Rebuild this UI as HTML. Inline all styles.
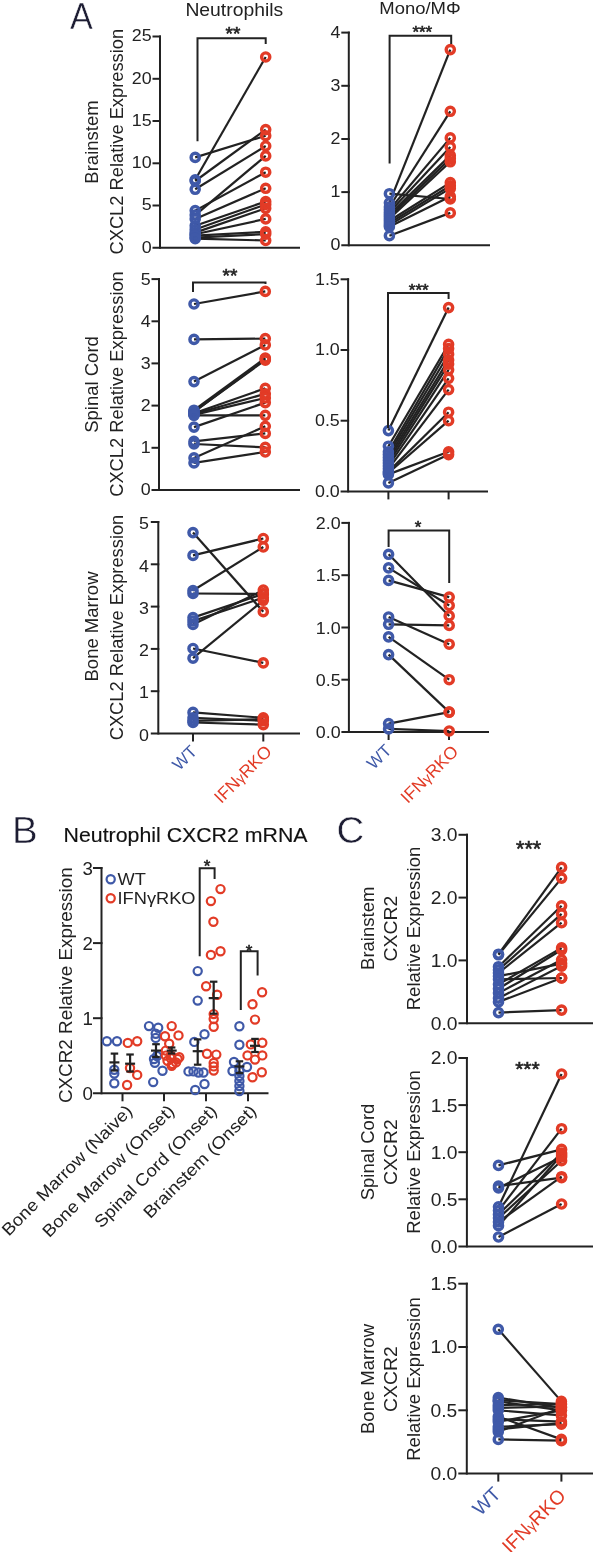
<!DOCTYPE html>
<html><head><meta charset="utf-8"><title>Figure</title>
<style>html,body{margin:0;padding:0;background:#fff;width:593px;height:1552px;overflow:hidden}
svg{display:block;will-change:transform} text{font-family:"Liberation Sans",sans-serif}</style></head>
<body><svg width="593" height="1552" viewBox="0 0 593 1552" font-family="Liberation Sans">
<rect width="593" height="1552" fill="#fff"/>
<text transform="translate(70.00 28.80) scale(0.95 1)" font-size="36" text-anchor="start" fill="#1d1d33" stroke="#fff" stroke-width="0.5">A</text>
<text transform="translate(234.30 15.80) scale(1.075 1)" font-size="18" text-anchor="middle" fill="#222" stroke="#222" stroke-width="0">Neutrophils</text>
<text transform="translate(420.00 13.50) scale(1.12 1)" font-size="16.5" text-anchor="middle" fill="#222" stroke="#222" stroke-width="0">Mono/M&#934;</text>
<line x1="160.0" y1="35.5" x2="160.0" y2="248.8" stroke="#222" stroke-width="2"/>
<line x1="152.5" y1="247.8" x2="300.0" y2="247.8" stroke="#222" stroke-width="2"/>
<text transform="translate(151.70 252.60) scale(1.05 1)" font-size="17" text-anchor="end" fill="#222" stroke="#222" stroke-width="0">0</text>
<line x1="152.5" y1="205.5" x2="161.0" y2="205.5" stroke="#222" stroke-width="2"/>
<text transform="translate(151.70 210.34) scale(1.05 1)" font-size="17" text-anchor="end" fill="#222" stroke="#222" stroke-width="0">5</text>
<line x1="152.5" y1="163.3" x2="161.0" y2="163.3" stroke="#222" stroke-width="2"/>
<text transform="translate(151.70 168.08) scale(1.05 1)" font-size="17" text-anchor="end" fill="#222" stroke="#222" stroke-width="0">10</text>
<line x1="152.5" y1="121.0" x2="161.0" y2="121.0" stroke="#222" stroke-width="2"/>
<text transform="translate(151.70 125.82) scale(1.05 1)" font-size="17" text-anchor="end" fill="#222" stroke="#222" stroke-width="0">15</text>
<line x1="152.5" y1="78.8" x2="161.0" y2="78.8" stroke="#222" stroke-width="2"/>
<text transform="translate(151.70 83.56) scale(1.05 1)" font-size="17" text-anchor="end" fill="#222" stroke="#222" stroke-width="0">20</text>
<line x1="152.5" y1="36.5" x2="161.0" y2="36.5" stroke="#222" stroke-width="2"/>
<text transform="translate(151.70 41.30) scale(1.05 1)" font-size="17" text-anchor="end" fill="#222" stroke="#222" stroke-width="0">25</text>
<line x1="195.2" y1="157.4" x2="265.7" y2="135.7" stroke="#222" stroke-width="2.2"/>
<line x1="195.2" y1="179.8" x2="265.7" y2="57.0" stroke="#222" stroke-width="2.2"/>
<line x1="195.2" y1="181.0" x2="265.7" y2="129.6" stroke="#222" stroke-width="2.2"/>
<line x1="195.2" y1="189.3" x2="265.7" y2="146.0" stroke="#222" stroke-width="2.2"/>
<line x1="195.2" y1="210.6" x2="265.7" y2="172.2" stroke="#222" stroke-width="2.2"/>
<line x1="195.2" y1="215.1" x2="265.7" y2="155.9" stroke="#222" stroke-width="2.2"/>
<line x1="195.2" y1="218.9" x2="265.7" y2="188.3" stroke="#222" stroke-width="2.2"/>
<line x1="195.2" y1="225.7" x2="265.7" y2="201.5" stroke="#222" stroke-width="2.2"/>
<line x1="195.2" y1="229.5" x2="265.7" y2="204.5" stroke="#222" stroke-width="2.2"/>
<line x1="195.2" y1="232.6" x2="265.7" y2="208.3" stroke="#222" stroke-width="2.2"/>
<line x1="195.2" y1="234.3" x2="265.7" y2="218.9" stroke="#222" stroke-width="2.2"/>
<line x1="195.2" y1="235.6" x2="265.7" y2="231.8" stroke="#222" stroke-width="2.2"/>
<line x1="195.2" y1="237.7" x2="265.7" y2="234.1" stroke="#222" stroke-width="2.2"/>
<line x1="195.2" y1="238.6" x2="265.7" y2="240.5" stroke="#222" stroke-width="2.2"/>
<circle cx="195.2" cy="157.4" r="4.1" fill="none" stroke="#3f59a8" stroke-width="3.4"/>
<circle cx="195.2" cy="179.8" r="4.1" fill="none" stroke="#3f59a8" stroke-width="3.4"/>
<circle cx="195.2" cy="181.0" r="4.1" fill="none" stroke="#3f59a8" stroke-width="3.4"/>
<circle cx="195.2" cy="189.3" r="4.1" fill="none" stroke="#3f59a8" stroke-width="3.4"/>
<circle cx="195.2" cy="210.6" r="4.1" fill="none" stroke="#3f59a8" stroke-width="3.4"/>
<circle cx="195.2" cy="215.1" r="4.1" fill="none" stroke="#3f59a8" stroke-width="3.4"/>
<circle cx="195.2" cy="218.9" r="4.1" fill="none" stroke="#3f59a8" stroke-width="3.4"/>
<circle cx="195.2" cy="225.7" r="4.1" fill="none" stroke="#3f59a8" stroke-width="3.4"/>
<circle cx="195.2" cy="229.5" r="4.1" fill="none" stroke="#3f59a8" stroke-width="3.4"/>
<circle cx="195.2" cy="232.6" r="4.1" fill="none" stroke="#3f59a8" stroke-width="3.4"/>
<circle cx="195.2" cy="234.3" r="4.1" fill="none" stroke="#3f59a8" stroke-width="3.4"/>
<circle cx="195.2" cy="235.6" r="4.1" fill="none" stroke="#3f59a8" stroke-width="3.4"/>
<circle cx="195.2" cy="237.7" r="4.1" fill="none" stroke="#3f59a8" stroke-width="3.4"/>
<circle cx="195.2" cy="238.6" r="4.1" fill="none" stroke="#3f59a8" stroke-width="3.4"/>
<circle cx="265.7" cy="135.7" r="4.1" fill="none" stroke="#e23b26" stroke-width="3.4"/>
<circle cx="265.7" cy="57.0" r="4.1" fill="none" stroke="#e23b26" stroke-width="3.4"/>
<circle cx="265.7" cy="129.6" r="4.1" fill="none" stroke="#e23b26" stroke-width="3.4"/>
<circle cx="265.7" cy="146.0" r="4.1" fill="none" stroke="#e23b26" stroke-width="3.4"/>
<circle cx="265.7" cy="172.2" r="4.1" fill="none" stroke="#e23b26" stroke-width="3.4"/>
<circle cx="265.7" cy="155.9" r="4.1" fill="none" stroke="#e23b26" stroke-width="3.4"/>
<circle cx="265.7" cy="188.3" r="4.1" fill="none" stroke="#e23b26" stroke-width="3.4"/>
<circle cx="265.7" cy="201.5" r="4.1" fill="none" stroke="#e23b26" stroke-width="3.4"/>
<circle cx="265.7" cy="204.5" r="4.1" fill="none" stroke="#e23b26" stroke-width="3.4"/>
<circle cx="265.7" cy="208.3" r="4.1" fill="none" stroke="#e23b26" stroke-width="3.4"/>
<circle cx="265.7" cy="218.9" r="4.1" fill="none" stroke="#e23b26" stroke-width="3.4"/>
<circle cx="265.7" cy="231.8" r="4.1" fill="none" stroke="#e23b26" stroke-width="3.4"/>
<circle cx="265.7" cy="234.1" r="4.1" fill="none" stroke="#e23b26" stroke-width="3.4"/>
<circle cx="265.7" cy="240.5" r="4.1" fill="none" stroke="#e23b26" stroke-width="3.4"/>
<polyline points="197.5,141.3 197.5,38.3 265.7,38.3 265.7,44" fill="none" stroke="#222" stroke-width="2"/>
<text transform="translate(232.90 40.14)" font-size="19" text-anchor="middle" fill="#222" stroke="#222" stroke-width="0.6">**</text>
<text transform="translate(97.80 142.00) rotate(-90)" font-size="18.5" text-anchor="middle" fill="#222" stroke="#222" stroke-width="0">Brainstem</text>
<text transform="translate(123.30 141.70) rotate(-90)" font-size="18.3" text-anchor="middle" fill="#222" stroke="#222" stroke-width="0">CXCL2 Relative Expression</text>
<line x1="348.8" y1="31.6" x2="348.8" y2="246.3" stroke="#222" stroke-width="2"/>
<line x1="341.3" y1="245.3" x2="490.0" y2="245.3" stroke="#222" stroke-width="2"/>
<text transform="translate(340.50 250.40) scale(1.05 1)" font-size="17" text-anchor="end" fill="#222" stroke="#222" stroke-width="0">0</text>
<line x1="341.3" y1="192.1" x2="349.8" y2="192.1" stroke="#222" stroke-width="2"/>
<text transform="translate(340.50 197.23) scale(1.05 1)" font-size="17" text-anchor="end" fill="#222" stroke="#222" stroke-width="0">1</text>
<line x1="341.3" y1="139.0" x2="349.8" y2="139.0" stroke="#222" stroke-width="2"/>
<text transform="translate(340.50 144.06) scale(1.05 1)" font-size="17" text-anchor="end" fill="#222" stroke="#222" stroke-width="0">2</text>
<line x1="341.3" y1="85.8" x2="349.8" y2="85.8" stroke="#222" stroke-width="2"/>
<text transform="translate(340.50 90.89) scale(1.05 1)" font-size="17" text-anchor="end" fill="#222" stroke="#222" stroke-width="0">3</text>
<line x1="341.3" y1="32.6" x2="349.8" y2="32.6" stroke="#222" stroke-width="2"/>
<text transform="translate(340.50 37.72) scale(1.05 1)" font-size="17" text-anchor="end" fill="#222" stroke="#222" stroke-width="0">4</text>
<line x1="389.4" y1="193.7" x2="450.3" y2="199.0" stroke="#222" stroke-width="2.2"/>
<line x1="389.4" y1="202.8" x2="450.3" y2="49.6" stroke="#222" stroke-width="2.2"/>
<line x1="389.4" y1="207.0" x2="450.3" y2="111.3" stroke="#222" stroke-width="2.2"/>
<line x1="389.4" y1="209.7" x2="450.3" y2="137.9" stroke="#222" stroke-width="2.2"/>
<line x1="389.4" y1="212.3" x2="450.3" y2="146.9" stroke="#222" stroke-width="2.2"/>
<line x1="389.4" y1="214.5" x2="450.3" y2="155.4" stroke="#222" stroke-width="2.2"/>
<line x1="389.4" y1="216.6" x2="450.3" y2="158.6" stroke="#222" stroke-width="2.2"/>
<line x1="389.4" y1="218.7" x2="450.3" y2="161.8" stroke="#222" stroke-width="2.2"/>
<line x1="389.4" y1="220.8" x2="450.3" y2="182.6" stroke="#222" stroke-width="2.2"/>
<line x1="389.4" y1="223.0" x2="450.3" y2="185.7" stroke="#222" stroke-width="2.2"/>
<line x1="389.4" y1="225.1" x2="450.3" y2="188.4" stroke="#222" stroke-width="2.2"/>
<line x1="389.4" y1="226.7" x2="450.3" y2="196.4" stroke="#222" stroke-width="2.2"/>
<line x1="389.4" y1="235.7" x2="450.3" y2="212.9" stroke="#222" stroke-width="2.2"/>
<circle cx="389.4" cy="193.7" r="4.1" fill="none" stroke="#3f59a8" stroke-width="3.4"/>
<circle cx="389.4" cy="202.8" r="4.1" fill="none" stroke="#3f59a8" stroke-width="3.4"/>
<circle cx="389.4" cy="207.0" r="4.1" fill="none" stroke="#3f59a8" stroke-width="3.4"/>
<circle cx="389.4" cy="209.7" r="4.1" fill="none" stroke="#3f59a8" stroke-width="3.4"/>
<circle cx="389.4" cy="212.3" r="4.1" fill="none" stroke="#3f59a8" stroke-width="3.4"/>
<circle cx="389.4" cy="214.5" r="4.1" fill="none" stroke="#3f59a8" stroke-width="3.4"/>
<circle cx="389.4" cy="216.6" r="4.1" fill="none" stroke="#3f59a8" stroke-width="3.4"/>
<circle cx="389.4" cy="218.7" r="4.1" fill="none" stroke="#3f59a8" stroke-width="3.4"/>
<circle cx="389.4" cy="220.8" r="4.1" fill="none" stroke="#3f59a8" stroke-width="3.4"/>
<circle cx="389.4" cy="223.0" r="4.1" fill="none" stroke="#3f59a8" stroke-width="3.4"/>
<circle cx="389.4" cy="225.1" r="4.1" fill="none" stroke="#3f59a8" stroke-width="3.4"/>
<circle cx="389.4" cy="226.7" r="4.1" fill="none" stroke="#3f59a8" stroke-width="3.4"/>
<circle cx="389.4" cy="235.7" r="4.1" fill="none" stroke="#3f59a8" stroke-width="3.4"/>
<circle cx="450.3" cy="199.0" r="4.1" fill="none" stroke="#e23b26" stroke-width="3.4"/>
<circle cx="450.3" cy="49.6" r="4.1" fill="none" stroke="#e23b26" stroke-width="3.4"/>
<circle cx="450.3" cy="111.3" r="4.1" fill="none" stroke="#e23b26" stroke-width="3.4"/>
<circle cx="450.3" cy="137.9" r="4.1" fill="none" stroke="#e23b26" stroke-width="3.4"/>
<circle cx="450.3" cy="146.9" r="4.1" fill="none" stroke="#e23b26" stroke-width="3.4"/>
<circle cx="450.3" cy="155.4" r="4.1" fill="none" stroke="#e23b26" stroke-width="3.4"/>
<circle cx="450.3" cy="158.6" r="4.1" fill="none" stroke="#e23b26" stroke-width="3.4"/>
<circle cx="450.3" cy="161.8" r="4.1" fill="none" stroke="#e23b26" stroke-width="3.4"/>
<circle cx="450.3" cy="182.6" r="4.1" fill="none" stroke="#e23b26" stroke-width="3.4"/>
<circle cx="450.3" cy="185.7" r="4.1" fill="none" stroke="#e23b26" stroke-width="3.4"/>
<circle cx="450.3" cy="188.4" r="4.1" fill="none" stroke="#e23b26" stroke-width="3.4"/>
<circle cx="450.3" cy="196.4" r="4.1" fill="none" stroke="#e23b26" stroke-width="3.4"/>
<circle cx="450.3" cy="212.9" r="4.1" fill="none" stroke="#e23b26" stroke-width="3.4"/>
<polyline points="389.6,163.6 389.6,35.8 451.2,35.8 451.2,44" fill="none" stroke="#222" stroke-width="2"/>
<text transform="translate(422.30 37.72)" font-size="17" text-anchor="middle" fill="#222" stroke="#222" stroke-width="0.6">***</text>
<line x1="159.0" y1="278.1" x2="159.0" y2="490.9" stroke="#222" stroke-width="2"/>
<line x1="151.5" y1="489.9" x2="300.0" y2="489.9" stroke="#222" stroke-width="2"/>
<text transform="translate(150.70 495.30) scale(1.05 1)" font-size="17" text-anchor="end" fill="#222" stroke="#222" stroke-width="0">0</text>
<line x1="151.5" y1="447.8" x2="160.0" y2="447.8" stroke="#222" stroke-width="2"/>
<text transform="translate(150.70 453.15) scale(1.05 1)" font-size="17" text-anchor="end" fill="#222" stroke="#222" stroke-width="0">1</text>
<line x1="151.5" y1="405.6" x2="160.0" y2="405.6" stroke="#222" stroke-width="2"/>
<text transform="translate(150.70 411.00) scale(1.05 1)" font-size="17" text-anchor="end" fill="#222" stroke="#222" stroke-width="0">2</text>
<line x1="151.5" y1="363.4" x2="160.0" y2="363.4" stroke="#222" stroke-width="2"/>
<text transform="translate(150.70 368.85) scale(1.05 1)" font-size="17" text-anchor="end" fill="#222" stroke="#222" stroke-width="0">3</text>
<line x1="151.5" y1="321.3" x2="160.0" y2="321.3" stroke="#222" stroke-width="2"/>
<text transform="translate(150.70 326.70) scale(1.05 1)" font-size="17" text-anchor="end" fill="#222" stroke="#222" stroke-width="0">4</text>
<line x1="151.5" y1="279.1" x2="160.0" y2="279.1" stroke="#222" stroke-width="2"/>
<text transform="translate(150.70 284.55) scale(1.05 1)" font-size="17" text-anchor="end" fill="#222" stroke="#222" stroke-width="0">5</text>
<line x1="194.0" y1="304.0" x2="265.3" y2="291.4" stroke="#222" stroke-width="2.2"/>
<line x1="194.0" y1="339.4" x2="265.3" y2="338.6" stroke="#222" stroke-width="2.2"/>
<line x1="194.0" y1="381.6" x2="265.3" y2="344.9" stroke="#222" stroke-width="2.2"/>
<line x1="194.0" y1="410.2" x2="265.3" y2="358.0" stroke="#222" stroke-width="2.2"/>
<line x1="194.0" y1="411.5" x2="265.3" y2="360.1" stroke="#222" stroke-width="2.2"/>
<line x1="194.0" y1="411.9" x2="265.3" y2="359.2" stroke="#222" stroke-width="2.2"/>
<line x1="194.0" y1="413.2" x2="265.3" y2="388.3" stroke="#222" stroke-width="2.2"/>
<line x1="194.0" y1="414.0" x2="265.3" y2="393.8" stroke="#222" stroke-width="2.2"/>
<line x1="194.0" y1="414.9" x2="265.3" y2="398.0" stroke="#222" stroke-width="2.2"/>
<line x1="194.0" y1="415.3" x2="265.3" y2="415.3" stroke="#222" stroke-width="2.2"/>
<line x1="194.0" y1="427.1" x2="265.3" y2="402.6" stroke="#222" stroke-width="2.2"/>
<line x1="194.0" y1="441.4" x2="265.3" y2="433.4" stroke="#222" stroke-width="2.2"/>
<line x1="194.0" y1="444.0" x2="265.3" y2="447.3" stroke="#222" stroke-width="2.2"/>
<line x1="194.0" y1="457.9" x2="265.3" y2="426.3" stroke="#222" stroke-width="2.2"/>
<line x1="194.0" y1="462.9" x2="265.3" y2="452.0" stroke="#222" stroke-width="2.2"/>
<circle cx="194.0" cy="304.0" r="4.1" fill="none" stroke="#3f59a8" stroke-width="3.4"/>
<circle cx="194.0" cy="339.4" r="4.1" fill="none" stroke="#3f59a8" stroke-width="3.4"/>
<circle cx="194.0" cy="381.6" r="4.1" fill="none" stroke="#3f59a8" stroke-width="3.4"/>
<circle cx="194.0" cy="410.2" r="4.1" fill="none" stroke="#3f59a8" stroke-width="3.4"/>
<circle cx="194.0" cy="411.5" r="4.1" fill="none" stroke="#3f59a8" stroke-width="3.4"/>
<circle cx="194.0" cy="411.9" r="4.1" fill="none" stroke="#3f59a8" stroke-width="3.4"/>
<circle cx="194.0" cy="413.2" r="4.1" fill="none" stroke="#3f59a8" stroke-width="3.4"/>
<circle cx="194.0" cy="414.0" r="4.1" fill="none" stroke="#3f59a8" stroke-width="3.4"/>
<circle cx="194.0" cy="414.9" r="4.1" fill="none" stroke="#3f59a8" stroke-width="3.4"/>
<circle cx="194.0" cy="415.3" r="4.1" fill="none" stroke="#3f59a8" stroke-width="3.4"/>
<circle cx="194.0" cy="427.1" r="4.1" fill="none" stroke="#3f59a8" stroke-width="3.4"/>
<circle cx="194.0" cy="441.4" r="4.1" fill="none" stroke="#3f59a8" stroke-width="3.4"/>
<circle cx="194.0" cy="444.0" r="4.1" fill="none" stroke="#3f59a8" stroke-width="3.4"/>
<circle cx="194.0" cy="457.9" r="4.1" fill="none" stroke="#3f59a8" stroke-width="3.4"/>
<circle cx="194.0" cy="462.9" r="4.1" fill="none" stroke="#3f59a8" stroke-width="3.4"/>
<circle cx="265.3" cy="291.4" r="4.1" fill="none" stroke="#e23b26" stroke-width="3.4"/>
<circle cx="265.3" cy="338.6" r="4.1" fill="none" stroke="#e23b26" stroke-width="3.4"/>
<circle cx="265.3" cy="344.9" r="4.1" fill="none" stroke="#e23b26" stroke-width="3.4"/>
<circle cx="265.3" cy="358.0" r="4.1" fill="none" stroke="#e23b26" stroke-width="3.4"/>
<circle cx="265.3" cy="360.1" r="4.1" fill="none" stroke="#e23b26" stroke-width="3.4"/>
<circle cx="265.3" cy="359.2" r="4.1" fill="none" stroke="#e23b26" stroke-width="3.4"/>
<circle cx="265.3" cy="388.3" r="4.1" fill="none" stroke="#e23b26" stroke-width="3.4"/>
<circle cx="265.3" cy="393.8" r="4.1" fill="none" stroke="#e23b26" stroke-width="3.4"/>
<circle cx="265.3" cy="398.0" r="4.1" fill="none" stroke="#e23b26" stroke-width="3.4"/>
<circle cx="265.3" cy="415.3" r="4.1" fill="none" stroke="#e23b26" stroke-width="3.4"/>
<circle cx="265.3" cy="402.6" r="4.1" fill="none" stroke="#e23b26" stroke-width="3.4"/>
<circle cx="265.3" cy="433.4" r="4.1" fill="none" stroke="#e23b26" stroke-width="3.4"/>
<circle cx="265.3" cy="447.3" r="4.1" fill="none" stroke="#e23b26" stroke-width="3.4"/>
<circle cx="265.3" cy="426.3" r="4.1" fill="none" stroke="#e23b26" stroke-width="3.4"/>
<circle cx="265.3" cy="452.0" r="4.1" fill="none" stroke="#e23b26" stroke-width="3.4"/>
<polyline points="193,292 193,282.5 265.5,282.5 265.5,284" fill="none" stroke="#222" stroke-width="2"/>
<text transform="translate(230.00 282.44)" font-size="19" text-anchor="middle" fill="#222" stroke="#222" stroke-width="0.6">**</text>
<text transform="translate(97.80 384.50) rotate(-90)" font-size="18.5" text-anchor="middle" fill="#222" stroke="#222" stroke-width="0">Spinal Cord</text>
<text transform="translate(123.30 384.00) rotate(-90)" font-size="18.3" text-anchor="middle" fill="#222" stroke="#222" stroke-width="0">CXCL2 Relative Expression</text>
<line x1="348.1" y1="278.3" x2="348.1" y2="492.4" stroke="#222" stroke-width="2"/>
<line x1="340.6" y1="491.4" x2="488.0" y2="491.4" stroke="#222" stroke-width="2"/>
<text transform="translate(339.80 496.80) scale(1.05 1)" font-size="17" text-anchor="end" fill="#222" stroke="#222" stroke-width="0">0.0</text>
<line x1="340.6" y1="420.7" x2="349.1" y2="420.7" stroke="#222" stroke-width="2"/>
<text transform="translate(339.80 426.10) scale(1.05 1)" font-size="17" text-anchor="end" fill="#222" stroke="#222" stroke-width="0">0.5</text>
<line x1="340.6" y1="350.0" x2="349.1" y2="350.0" stroke="#222" stroke-width="2"/>
<text transform="translate(339.80 355.40) scale(1.05 1)" font-size="17" text-anchor="end" fill="#222" stroke="#222" stroke-width="0">1.0</text>
<line x1="340.6" y1="279.3" x2="349.1" y2="279.3" stroke="#222" stroke-width="2"/>
<text transform="translate(339.80 284.70) scale(1.05 1)" font-size="17" text-anchor="end" fill="#222" stroke="#222" stroke-width="0">1.5</text>
<line x1="388.4" y1="491.4" x2="388.4" y2="499.4" stroke="#222" stroke-width="2"/>
<line x1="448.6" y1="491.4" x2="448.6" y2="499.4" stroke="#222" stroke-width="2"/>
<line x1="388.4" y1="430.6" x2="448.6" y2="307.6" stroke="#222" stroke-width="2.2"/>
<line x1="388.4" y1="446.2" x2="448.6" y2="344.3" stroke="#222" stroke-width="2.2"/>
<line x1="388.4" y1="451.8" x2="448.6" y2="348.6" stroke="#222" stroke-width="2.2"/>
<line x1="388.4" y1="454.6" x2="448.6" y2="354.2" stroke="#222" stroke-width="2.2"/>
<line x1="388.4" y1="457.5" x2="448.6" y2="359.9" stroke="#222" stroke-width="2.2"/>
<line x1="388.4" y1="460.3" x2="448.6" y2="364.1" stroke="#222" stroke-width="2.2"/>
<line x1="388.4" y1="463.1" x2="448.6" y2="369.8" stroke="#222" stroke-width="2.2"/>
<line x1="388.4" y1="465.9" x2="448.6" y2="378.3" stroke="#222" stroke-width="2.2"/>
<line x1="388.4" y1="468.8" x2="448.6" y2="389.6" stroke="#222" stroke-width="2.2"/>
<line x1="388.4" y1="471.6" x2="448.6" y2="412.2" stroke="#222" stroke-width="2.2"/>
<line x1="388.4" y1="473.0" x2="448.6" y2="420.7" stroke="#222" stroke-width="2.2"/>
<line x1="388.4" y1="474.4" x2="448.6" y2="451.8" stroke="#222" stroke-width="2.2"/>
<line x1="388.4" y1="482.9" x2="448.6" y2="454.6" stroke="#222" stroke-width="2.2"/>
<circle cx="388.4" cy="430.6" r="4.1" fill="none" stroke="#3f59a8" stroke-width="3.4"/>
<circle cx="388.4" cy="446.2" r="4.1" fill="none" stroke="#3f59a8" stroke-width="3.4"/>
<circle cx="388.4" cy="451.8" r="4.1" fill="none" stroke="#3f59a8" stroke-width="3.4"/>
<circle cx="388.4" cy="454.6" r="4.1" fill="none" stroke="#3f59a8" stroke-width="3.4"/>
<circle cx="388.4" cy="457.5" r="4.1" fill="none" stroke="#3f59a8" stroke-width="3.4"/>
<circle cx="388.4" cy="460.3" r="4.1" fill="none" stroke="#3f59a8" stroke-width="3.4"/>
<circle cx="388.4" cy="463.1" r="4.1" fill="none" stroke="#3f59a8" stroke-width="3.4"/>
<circle cx="388.4" cy="465.9" r="4.1" fill="none" stroke="#3f59a8" stroke-width="3.4"/>
<circle cx="388.4" cy="468.8" r="4.1" fill="none" stroke="#3f59a8" stroke-width="3.4"/>
<circle cx="388.4" cy="471.6" r="4.1" fill="none" stroke="#3f59a8" stroke-width="3.4"/>
<circle cx="388.4" cy="473.0" r="4.1" fill="none" stroke="#3f59a8" stroke-width="3.4"/>
<circle cx="388.4" cy="474.4" r="4.1" fill="none" stroke="#3f59a8" stroke-width="3.4"/>
<circle cx="388.4" cy="482.9" r="4.1" fill="none" stroke="#3f59a8" stroke-width="3.4"/>
<circle cx="448.6" cy="307.6" r="4.1" fill="none" stroke="#e23b26" stroke-width="3.4"/>
<circle cx="448.6" cy="344.3" r="4.1" fill="none" stroke="#e23b26" stroke-width="3.4"/>
<circle cx="448.6" cy="348.6" r="4.1" fill="none" stroke="#e23b26" stroke-width="3.4"/>
<circle cx="448.6" cy="354.2" r="4.1" fill="none" stroke="#e23b26" stroke-width="3.4"/>
<circle cx="448.6" cy="359.9" r="4.1" fill="none" stroke="#e23b26" stroke-width="3.4"/>
<circle cx="448.6" cy="364.1" r="4.1" fill="none" stroke="#e23b26" stroke-width="3.4"/>
<circle cx="448.6" cy="369.8" r="4.1" fill="none" stroke="#e23b26" stroke-width="3.4"/>
<circle cx="448.6" cy="378.3" r="4.1" fill="none" stroke="#e23b26" stroke-width="3.4"/>
<circle cx="448.6" cy="389.6" r="4.1" fill="none" stroke="#e23b26" stroke-width="3.4"/>
<circle cx="448.6" cy="412.2" r="4.1" fill="none" stroke="#e23b26" stroke-width="3.4"/>
<circle cx="448.6" cy="420.7" r="4.1" fill="none" stroke="#e23b26" stroke-width="3.4"/>
<circle cx="448.6" cy="451.8" r="4.1" fill="none" stroke="#e23b26" stroke-width="3.4"/>
<circle cx="448.6" cy="454.6" r="4.1" fill="none" stroke="#e23b26" stroke-width="3.4"/>
<polyline points="388,428 388,293 448.6,293 448.6,299" fill="none" stroke="#222" stroke-width="2"/>
<text transform="translate(418.70 295.82)" font-size="17" text-anchor="middle" fill="#222" stroke="#222" stroke-width="0.6">***</text>
<line x1="158.3" y1="521.0" x2="158.3" y2="734.5" stroke="#222" stroke-width="2"/>
<line x1="150.8" y1="733.5" x2="300.0" y2="733.5" stroke="#222" stroke-width="2"/>
<text transform="translate(149.00 740.70) scale(1.05 1)" font-size="17" text-anchor="end" fill="#222" stroke="#222" stroke-width="0">0</text>
<line x1="150.8" y1="691.2" x2="159.3" y2="691.2" stroke="#222" stroke-width="2"/>
<text transform="translate(149.00 698.40) scale(1.05 1)" font-size="17" text-anchor="end" fill="#222" stroke="#222" stroke-width="0">1</text>
<line x1="150.8" y1="648.9" x2="159.3" y2="648.9" stroke="#222" stroke-width="2"/>
<text transform="translate(149.00 656.10) scale(1.05 1)" font-size="17" text-anchor="end" fill="#222" stroke="#222" stroke-width="0">2</text>
<line x1="150.8" y1="606.6" x2="159.3" y2="606.6" stroke="#222" stroke-width="2"/>
<text transform="translate(149.00 613.80) scale(1.05 1)" font-size="17" text-anchor="end" fill="#222" stroke="#222" stroke-width="0">3</text>
<line x1="150.8" y1="564.3" x2="159.3" y2="564.3" stroke="#222" stroke-width="2"/>
<text transform="translate(149.00 571.50) scale(1.05 1)" font-size="17" text-anchor="end" fill="#222" stroke="#222" stroke-width="0">4</text>
<line x1="150.8" y1="522.0" x2="159.3" y2="522.0" stroke="#222" stroke-width="2"/>
<text transform="translate(149.00 529.20) scale(1.05 1)" font-size="17" text-anchor="end" fill="#222" stroke="#222" stroke-width="0">5</text>
<line x1="193.0" y1="733.5" x2="193.0" y2="741.5" stroke="#222" stroke-width="2"/>
<line x1="263.3" y1="733.5" x2="263.3" y2="741.5" stroke="#222" stroke-width="2"/>
<line x1="193.0" y1="532.6" x2="263.3" y2="611.7" stroke="#222" stroke-width="2.2"/>
<line x1="193.0" y1="555.4" x2="263.3" y2="538.5" stroke="#222" stroke-width="2.2"/>
<line x1="193.0" y1="590.5" x2="263.3" y2="547.0" stroke="#222" stroke-width="2.2"/>
<line x1="193.0" y1="593.5" x2="263.3" y2="593.9" stroke="#222" stroke-width="2.2"/>
<line x1="193.0" y1="617.6" x2="263.3" y2="593.9" stroke="#222" stroke-width="2.2"/>
<line x1="193.0" y1="621.0" x2="263.3" y2="597.7" stroke="#222" stroke-width="2.2"/>
<line x1="193.0" y1="624.4" x2="263.3" y2="590.1" stroke="#222" stroke-width="2.2"/>
<line x1="193.0" y1="648.5" x2="263.3" y2="662.9" stroke="#222" stroke-width="2.2"/>
<line x1="193.0" y1="658.2" x2="263.3" y2="600.3" stroke="#222" stroke-width="2.2"/>
<line x1="193.0" y1="712.4" x2="263.3" y2="717.8" stroke="#222" stroke-width="2.2"/>
<line x1="193.0" y1="717.8" x2="263.3" y2="720.8" stroke="#222" stroke-width="2.2"/>
<line x1="193.0" y1="720.8" x2="263.3" y2="719.1" stroke="#222" stroke-width="2.2"/>
<line x1="193.0" y1="722.5" x2="263.3" y2="724.6" stroke="#222" stroke-width="2.2"/>
<circle cx="193.0" cy="532.6" r="4.1" fill="none" stroke="#3f59a8" stroke-width="3.4"/>
<circle cx="193.0" cy="555.4" r="4.1" fill="none" stroke="#3f59a8" stroke-width="3.4"/>
<circle cx="193.0" cy="590.5" r="4.1" fill="none" stroke="#3f59a8" stroke-width="3.4"/>
<circle cx="193.0" cy="593.5" r="4.1" fill="none" stroke="#3f59a8" stroke-width="3.4"/>
<circle cx="193.0" cy="617.6" r="4.1" fill="none" stroke="#3f59a8" stroke-width="3.4"/>
<circle cx="193.0" cy="621.0" r="4.1" fill="none" stroke="#3f59a8" stroke-width="3.4"/>
<circle cx="193.0" cy="624.4" r="4.1" fill="none" stroke="#3f59a8" stroke-width="3.4"/>
<circle cx="193.0" cy="648.5" r="4.1" fill="none" stroke="#3f59a8" stroke-width="3.4"/>
<circle cx="193.0" cy="658.2" r="4.1" fill="none" stroke="#3f59a8" stroke-width="3.4"/>
<circle cx="193.0" cy="712.4" r="4.1" fill="none" stroke="#3f59a8" stroke-width="3.4"/>
<circle cx="193.0" cy="717.8" r="4.1" fill="none" stroke="#3f59a8" stroke-width="3.4"/>
<circle cx="193.0" cy="720.8" r="4.1" fill="none" stroke="#3f59a8" stroke-width="3.4"/>
<circle cx="193.0" cy="722.5" r="4.1" fill="none" stroke="#3f59a8" stroke-width="3.4"/>
<circle cx="263.3" cy="611.7" r="4.1" fill="none" stroke="#e23b26" stroke-width="3.4"/>
<circle cx="263.3" cy="538.5" r="4.1" fill="none" stroke="#e23b26" stroke-width="3.4"/>
<circle cx="263.3" cy="547.0" r="4.1" fill="none" stroke="#e23b26" stroke-width="3.4"/>
<circle cx="263.3" cy="593.9" r="4.1" fill="none" stroke="#e23b26" stroke-width="3.4"/>
<circle cx="263.3" cy="593.9" r="4.1" fill="none" stroke="#e23b26" stroke-width="3.4"/>
<circle cx="263.3" cy="597.7" r="4.1" fill="none" stroke="#e23b26" stroke-width="3.4"/>
<circle cx="263.3" cy="590.1" r="4.1" fill="none" stroke="#e23b26" stroke-width="3.4"/>
<circle cx="263.3" cy="662.9" r="4.1" fill="none" stroke="#e23b26" stroke-width="3.4"/>
<circle cx="263.3" cy="600.3" r="4.1" fill="none" stroke="#e23b26" stroke-width="3.4"/>
<circle cx="263.3" cy="717.8" r="4.1" fill="none" stroke="#e23b26" stroke-width="3.4"/>
<circle cx="263.3" cy="720.8" r="4.1" fill="none" stroke="#e23b26" stroke-width="3.4"/>
<circle cx="263.3" cy="719.1" r="4.1" fill="none" stroke="#e23b26" stroke-width="3.4"/>
<circle cx="263.3" cy="724.6" r="4.1" fill="none" stroke="#e23b26" stroke-width="3.4"/>
<text transform="translate(97.80 626.50) rotate(-90)" font-size="18.5" text-anchor="middle" fill="#222" stroke="#222" stroke-width="0">Bone Marrow</text>
<text transform="translate(123.30 627.50) rotate(-90)" font-size="18.3" text-anchor="middle" fill="#222" stroke="#222" stroke-width="0">CXCL2 Relative Expression</text>
<line x1="348.9" y1="521.9" x2="348.9" y2="733.0" stroke="#222" stroke-width="2"/>
<line x1="341.4" y1="732.0" x2="489.0" y2="732.0" stroke="#222" stroke-width="2"/>
<text transform="translate(340.60 738.30) scale(1.05 1)" font-size="17" text-anchor="end" fill="#222" stroke="#222" stroke-width="0">0.0</text>
<line x1="341.4" y1="679.7" x2="349.9" y2="679.7" stroke="#222" stroke-width="2"/>
<text transform="translate(340.60 686.02) scale(1.05 1)" font-size="17" text-anchor="end" fill="#222" stroke="#222" stroke-width="0">0.5</text>
<line x1="341.4" y1="627.5" x2="349.9" y2="627.5" stroke="#222" stroke-width="2"/>
<text transform="translate(340.60 633.75) scale(1.05 1)" font-size="17" text-anchor="end" fill="#222" stroke="#222" stroke-width="0">1.0</text>
<line x1="341.4" y1="575.2" x2="349.9" y2="575.2" stroke="#222" stroke-width="2"/>
<text transform="translate(340.60 581.47) scale(1.05 1)" font-size="17" text-anchor="end" fill="#222" stroke="#222" stroke-width="0">1.5</text>
<line x1="341.4" y1="522.9" x2="349.9" y2="522.9" stroke="#222" stroke-width="2"/>
<text transform="translate(340.60 529.20) scale(1.05 1)" font-size="17" text-anchor="end" fill="#222" stroke="#222" stroke-width="0">2.0</text>
<line x1="388.6" y1="732.0" x2="388.6" y2="740.0" stroke="#222" stroke-width="2"/>
<line x1="449.0" y1="732.0" x2="449.0" y2="740.0" stroke="#222" stroke-width="2"/>
<line x1="388.6" y1="554.3" x2="449.2" y2="615.9" stroke="#222" stroke-width="2.2"/>
<line x1="388.6" y1="567.9" x2="449.2" y2="605.5" stroke="#222" stroke-width="2.2"/>
<line x1="388.6" y1="580.4" x2="449.2" y2="597.1" stroke="#222" stroke-width="2.2"/>
<line x1="388.6" y1="617.0" x2="449.2" y2="644.2" stroke="#222" stroke-width="2.2"/>
<line x1="388.6" y1="624.3" x2="449.2" y2="625.4" stroke="#222" stroke-width="2.2"/>
<line x1="388.6" y1="636.9" x2="449.2" y2="679.7" stroke="#222" stroke-width="2.2"/>
<line x1="388.6" y1="654.6" x2="449.2" y2="712.1" stroke="#222" stroke-width="2.2"/>
<line x1="388.6" y1="723.6" x2="449.2" y2="712.1" stroke="#222" stroke-width="2.2"/>
<line x1="388.6" y1="728.9" x2="449.2" y2="731.0" stroke="#222" stroke-width="2.2"/>
<circle cx="388.6" cy="554.3" r="4.1" fill="none" stroke="#3f59a8" stroke-width="3.4"/>
<circle cx="388.6" cy="567.9" r="4.1" fill="none" stroke="#3f59a8" stroke-width="3.4"/>
<circle cx="388.6" cy="580.4" r="4.1" fill="none" stroke="#3f59a8" stroke-width="3.4"/>
<circle cx="388.6" cy="617.0" r="4.1" fill="none" stroke="#3f59a8" stroke-width="3.4"/>
<circle cx="388.6" cy="624.3" r="4.1" fill="none" stroke="#3f59a8" stroke-width="3.4"/>
<circle cx="388.6" cy="636.9" r="4.1" fill="none" stroke="#3f59a8" stroke-width="3.4"/>
<circle cx="388.6" cy="654.6" r="4.1" fill="none" stroke="#3f59a8" stroke-width="3.4"/>
<circle cx="388.6" cy="723.6" r="4.1" fill="none" stroke="#3f59a8" stroke-width="3.4"/>
<circle cx="388.6" cy="728.9" r="4.1" fill="none" stroke="#3f59a8" stroke-width="3.4"/>
<circle cx="449.2" cy="615.9" r="4.1" fill="none" stroke="#e23b26" stroke-width="3.4"/>
<circle cx="449.2" cy="605.5" r="4.1" fill="none" stroke="#e23b26" stroke-width="3.4"/>
<circle cx="449.2" cy="597.1" r="4.1" fill="none" stroke="#e23b26" stroke-width="3.4"/>
<circle cx="449.2" cy="644.2" r="4.1" fill="none" stroke="#e23b26" stroke-width="3.4"/>
<circle cx="449.2" cy="625.4" r="4.1" fill="none" stroke="#e23b26" stroke-width="3.4"/>
<circle cx="449.2" cy="679.7" r="4.1" fill="none" stroke="#e23b26" stroke-width="3.4"/>
<circle cx="449.2" cy="712.1" r="4.1" fill="none" stroke="#e23b26" stroke-width="3.4"/>
<circle cx="449.2" cy="712.1" r="4.1" fill="none" stroke="#e23b26" stroke-width="3.4"/>
<circle cx="449.2" cy="731.0" r="4.1" fill="none" stroke="#e23b26" stroke-width="3.4"/>
<polyline points="388.6,547 388.6,530.5 449.2,530.5 449.2,583" fill="none" stroke="#222" stroke-width="2"/>
<text transform="translate(418.00 533.12)" font-size="17" text-anchor="middle" fill="#222" stroke="#222" stroke-width="0.6">*</text>
<text transform="translate(198.00 752.50) rotate(-45)" font-size="17" text-anchor="end" fill="#3f59a8" stroke="#3f59a8" stroke-width="0">WT</text>
<text transform="translate(273.00 752.50) rotate(-45)" font-size="17.5" text-anchor="end" fill="#e23b26" stroke="#e23b26" stroke-width="0">IFN<tspan font-size="14">&#947;</tspan>RKO</text>
<text transform="translate(392.50 751.50) rotate(-45)" font-size="17" text-anchor="end" fill="#3f59a8" stroke="#3f59a8" stroke-width="0">WT</text>
<text transform="translate(459.50 752.50) rotate(-45)" font-size="17.5" text-anchor="end" fill="#e23b26" stroke="#e23b26" stroke-width="0">IFN<tspan font-size="14">&#947;</tspan>RKO</text>
<text transform="translate(12.00 842.60) scale(1.04 1)" font-size="37" text-anchor="start" fill="#1d1d33" stroke="#fff" stroke-width="0.5">B</text>
<text transform="translate(63.60 842.00) scale(1.025 1)" font-size="20.8" text-anchor="start" fill="#111" stroke="#111" stroke-width="0.15">Neutrophil CXCR2 mRNA</text>
<line x1="101.5" y1="867.0" x2="101.5" y2="1094.3" stroke="#222" stroke-width="2"/>
<line x1="93.0" y1="1093.3" x2="268.5" y2="1093.3" stroke="#222" stroke-width="2"/>
<text transform="translate(92.90 1099.90) scale(1.04 1)" font-size="18" text-anchor="end" fill="#222" stroke="#222" stroke-width="0">0</text>
<line x1="93.0" y1="1018.2" x2="102.5" y2="1018.2" stroke="#222" stroke-width="2"/>
<text transform="translate(92.90 1024.80) scale(1.04 1)" font-size="18" text-anchor="end" fill="#222" stroke="#222" stroke-width="0">1</text>
<line x1="93.0" y1="943.1" x2="102.5" y2="943.1" stroke="#222" stroke-width="2"/>
<text transform="translate(92.90 949.70) scale(1.04 1)" font-size="18" text-anchor="end" fill="#222" stroke="#222" stroke-width="0">2</text>
<line x1="93.0" y1="868.0" x2="102.5" y2="868.0" stroke="#222" stroke-width="2"/>
<text transform="translate(92.90 874.60) scale(1.04 1)" font-size="18" text-anchor="end" fill="#222" stroke="#222" stroke-width="0">3</text>
<line x1="122.5" y1="1093.3" x2="122.5" y2="1101.3" stroke="#222" stroke-width="2"/>
<line x1="164.0" y1="1093.3" x2="164.0" y2="1101.3" stroke="#222" stroke-width="2"/>
<line x1="206.0" y1="1093.3" x2="206.0" y2="1101.3" stroke="#222" stroke-width="2"/>
<line x1="248.0" y1="1093.3" x2="248.0" y2="1101.3" stroke="#222" stroke-width="2"/>
<text transform="translate(72.20 985.20) rotate(-90) scale(1.02 1)" font-size="18.5" text-anchor="middle" fill="#222" stroke="#222" stroke-width="0">CXCR2 Relative Expression</text>
<circle cx="110.7" cy="879.2" r="4.1" fill="none" stroke="#3f59a8" stroke-width="2.2"/>
<text transform="translate(117.50 885.20) scale(1.12 1)" font-size="16.3" text-anchor="start" fill="#222" stroke="#222" stroke-width="0">WT</text>
<circle cx="110.7" cy="898.2" r="4.1" fill="none" stroke="#e23b26" stroke-width="2.2"/>
<text transform="translate(117.50 904.20) scale(1.12 1)" font-size="16.3" text-anchor="start" fill="#222" stroke="#222" stroke-width="0">IFN&#947;RKO</text>
<circle cx="106.9" cy="1041.2" r="4.1" fill="none" stroke="#3f59a8" stroke-width="2.2"/>
<circle cx="117.0" cy="1041.2" r="4.1" fill="none" stroke="#3f59a8" stroke-width="2.2"/>
<circle cx="114.3" cy="1069.8" r="4.1" fill="none" stroke="#3f59a8" stroke-width="2.2"/>
<circle cx="114.3" cy="1073.5" r="4.1" fill="none" stroke="#3f59a8" stroke-width="2.2"/>
<circle cx="114.3" cy="1083.3" r="4.1" fill="none" stroke="#3f59a8" stroke-width="2.2"/>
<circle cx="149.0" cy="1026.1" r="4.1" fill="none" stroke="#3f59a8" stroke-width="2.2"/>
<circle cx="158.2" cy="1027.8" r="4.1" fill="none" stroke="#3f59a8" stroke-width="2.2"/>
<circle cx="155.7" cy="1033.7" r="4.1" fill="none" stroke="#3f59a8" stroke-width="2.2"/>
<circle cx="155.7" cy="1037.9" r="4.1" fill="none" stroke="#3f59a8" stroke-width="2.2"/>
<circle cx="154.0" cy="1059.0" r="4.1" fill="none" stroke="#3f59a8" stroke-width="2.2"/>
<circle cx="154.9" cy="1062.7" r="4.1" fill="none" stroke="#3f59a8" stroke-width="2.2"/>
<circle cx="157.0" cy="1056.0" r="4.1" fill="none" stroke="#3f59a8" stroke-width="2.2"/>
<circle cx="162.5" cy="1070.8" r="4.1" fill="none" stroke="#3f59a8" stroke-width="2.2"/>
<circle cx="153.2" cy="1082.1" r="4.1" fill="none" stroke="#3f59a8" stroke-width="2.2"/>
<circle cx="197.7" cy="971.1" r="4.1" fill="none" stroke="#3f59a8" stroke-width="2.2"/>
<circle cx="197.7" cy="1000.6" r="4.1" fill="none" stroke="#3f59a8" stroke-width="2.2"/>
<circle cx="204.5" cy="1034.3" r="4.1" fill="none" stroke="#3f59a8" stroke-width="2.2"/>
<circle cx="194.3" cy="1041.9" r="4.1" fill="none" stroke="#3f59a8" stroke-width="2.2"/>
<circle cx="188.5" cy="1071.4" r="4.1" fill="none" stroke="#3f59a8" stroke-width="2.2"/>
<circle cx="193.5" cy="1071.4" r="4.1" fill="none" stroke="#3f59a8" stroke-width="2.2"/>
<circle cx="198.5" cy="1072.5" r="4.1" fill="none" stroke="#3f59a8" stroke-width="2.2"/>
<circle cx="203.5" cy="1072.5" r="4.1" fill="none" stroke="#3f59a8" stroke-width="2.2"/>
<circle cx="204.5" cy="1084.0" r="4.1" fill="none" stroke="#3f59a8" stroke-width="2.2"/>
<circle cx="195.2" cy="1090.0" r="4.1" fill="none" stroke="#3f59a8" stroke-width="2.2"/>
<circle cx="239.4" cy="1026.2" r="4.1" fill="none" stroke="#3f59a8" stroke-width="2.2"/>
<circle cx="239.4" cy="1044.8" r="4.1" fill="none" stroke="#3f59a8" stroke-width="2.2"/>
<circle cx="234.0" cy="1062.0" r="4.1" fill="none" stroke="#3f59a8" stroke-width="2.2"/>
<circle cx="247.0" cy="1067.0" r="4.1" fill="none" stroke="#3f59a8" stroke-width="2.2"/>
<circle cx="232.5" cy="1071.0" r="4.1" fill="none" stroke="#3f59a8" stroke-width="2.2"/>
<circle cx="239.4" cy="1071.0" r="4.1" fill="none" stroke="#3f59a8" stroke-width="2.2"/>
<circle cx="239.4" cy="1076.0" r="4.1" fill="none" stroke="#3f59a8" stroke-width="2.2"/>
<circle cx="239.4" cy="1081.0" r="4.1" fill="none" stroke="#3f59a8" stroke-width="2.2"/>
<circle cx="239.4" cy="1086.0" r="4.1" fill="none" stroke="#3f59a8" stroke-width="2.2"/>
<circle cx="239.4" cy="1091.0" r="4.1" fill="none" stroke="#3f59a8" stroke-width="2.2"/>
<circle cx="127.8" cy="1042.9" r="4.1" fill="none" stroke="#e23b26" stroke-width="2.2"/>
<circle cx="137.2" cy="1041.2" r="4.1" fill="none" stroke="#e23b26" stroke-width="2.2"/>
<circle cx="130.0" cy="1068.0" r="4.1" fill="none" stroke="#e23b26" stroke-width="2.2"/>
<circle cx="137.2" cy="1074.9" r="4.1" fill="none" stroke="#e23b26" stroke-width="2.2"/>
<circle cx="127.1" cy="1085.0" r="4.1" fill="none" stroke="#e23b26" stroke-width="2.2"/>
<circle cx="171.7" cy="1026.1" r="4.1" fill="none" stroke="#e23b26" stroke-width="2.2"/>
<circle cx="178.5" cy="1035.4" r="4.1" fill="none" stroke="#e23b26" stroke-width="2.2"/>
<circle cx="165.0" cy="1036.3" r="4.1" fill="none" stroke="#e23b26" stroke-width="2.2"/>
<circle cx="169.2" cy="1043.8" r="4.1" fill="none" stroke="#e23b26" stroke-width="2.2"/>
<circle cx="165.8" cy="1050.6" r="4.1" fill="none" stroke="#e23b26" stroke-width="2.2"/>
<circle cx="165.8" cy="1055.6" r="4.1" fill="none" stroke="#e23b26" stroke-width="2.2"/>
<circle cx="177.6" cy="1059.0" r="4.1" fill="none" stroke="#e23b26" stroke-width="2.2"/>
<circle cx="179.3" cy="1057.3" r="4.1" fill="none" stroke="#e23b26" stroke-width="2.2"/>
<circle cx="170.9" cy="1058.2" r="4.1" fill="none" stroke="#e23b26" stroke-width="2.2"/>
<circle cx="172.6" cy="1064.1" r="4.1" fill="none" stroke="#e23b26" stroke-width="2.2"/>
<circle cx="167.5" cy="1060.7" r="4.1" fill="none" stroke="#e23b26" stroke-width="2.2"/>
<circle cx="171.7" cy="1065.8" r="4.1" fill="none" stroke="#e23b26" stroke-width="2.2"/>
<circle cx="176.0" cy="1062.4" r="4.1" fill="none" stroke="#e23b26" stroke-width="2.2"/>
<circle cx="170.9" cy="1055.6" r="4.1" fill="none" stroke="#e23b26" stroke-width="2.2"/>
<circle cx="220.5" cy="889.1" r="4.1" fill="none" stroke="#e23b26" stroke-width="2.2"/>
<circle cx="210.9" cy="901.1" r="4.1" fill="none" stroke="#e23b26" stroke-width="2.2"/>
<circle cx="213.4" cy="921.7" r="4.1" fill="none" stroke="#e23b26" stroke-width="2.2"/>
<circle cx="220.5" cy="951.2" r="4.1" fill="none" stroke="#e23b26" stroke-width="2.2"/>
<circle cx="210.9" cy="954.9" r="4.1" fill="none" stroke="#e23b26" stroke-width="2.2"/>
<circle cx="206.1" cy="986.3" r="4.1" fill="none" stroke="#e23b26" stroke-width="2.2"/>
<circle cx="217.1" cy="994.7" r="4.1" fill="none" stroke="#e23b26" stroke-width="2.2"/>
<circle cx="213.7" cy="1014.1" r="4.1" fill="none" stroke="#e23b26" stroke-width="2.2"/>
<circle cx="213.7" cy="1019.1" r="4.1" fill="none" stroke="#e23b26" stroke-width="2.2"/>
<circle cx="213.7" cy="1026.7" r="4.1" fill="none" stroke="#e23b26" stroke-width="2.2"/>
<circle cx="207.0" cy="1053.7" r="4.1" fill="none" stroke="#e23b26" stroke-width="2.2"/>
<circle cx="216.3" cy="1054.6" r="4.1" fill="none" stroke="#e23b26" stroke-width="2.2"/>
<circle cx="213.7" cy="1063.0" r="4.1" fill="none" stroke="#e23b26" stroke-width="2.2"/>
<circle cx="213.7" cy="1066.4" r="4.1" fill="none" stroke="#e23b26" stroke-width="2.2"/>
<circle cx="213.7" cy="1070.6" r="4.1" fill="none" stroke="#e23b26" stroke-width="2.2"/>
<circle cx="262.1" cy="992.2" r="4.1" fill="none" stroke="#e23b26" stroke-width="2.2"/>
<circle cx="252.5" cy="1004.3" r="4.1" fill="none" stroke="#e23b26" stroke-width="2.2"/>
<circle cx="255.0" cy="1019.6" r="4.1" fill="none" stroke="#e23b26" stroke-width="2.2"/>
<circle cx="262.3" cy="1042.7" r="4.1" fill="none" stroke="#e23b26" stroke-width="2.2"/>
<circle cx="250.8" cy="1044.4" r="4.1" fill="none" stroke="#e23b26" stroke-width="2.2"/>
<circle cx="247.5" cy="1055.4" r="4.1" fill="none" stroke="#e23b26" stroke-width="2.2"/>
<circle cx="262.3" cy="1055.4" r="4.1" fill="none" stroke="#e23b26" stroke-width="2.2"/>
<circle cx="255.0" cy="1059.6" r="4.1" fill="none" stroke="#e23b26" stroke-width="2.2"/>
<circle cx="261.8" cy="1072.3" r="4.1" fill="none" stroke="#e23b26" stroke-width="2.2"/>
<circle cx="252.5" cy="1077.3" r="4.1" fill="none" stroke="#e23b26" stroke-width="2.2"/>
<line x1="114.4" y1="1053.6" x2="114.4" y2="1070.5" stroke="#222" stroke-width="2.2"/>
<line x1="110.7" y1="1053.6" x2="118.2" y2="1053.6" stroke="#222" stroke-width="2.2"/>
<line x1="110.7" y1="1070.5" x2="118.2" y2="1070.5" stroke="#222" stroke-width="2.2"/>
<line x1="109.4" y1="1062.4" x2="119.4" y2="1062.4" stroke="#222" stroke-width="2.2"/>
<line x1="130.1" y1="1054.5" x2="130.1" y2="1071.5" stroke="#222" stroke-width="2.2"/>
<line x1="126.3" y1="1054.5" x2="133.8" y2="1054.5" stroke="#222" stroke-width="2.2"/>
<line x1="126.3" y1="1071.5" x2="133.8" y2="1071.5" stroke="#222" stroke-width="2.2"/>
<line x1="125.1" y1="1063.7" x2="135.1" y2="1063.7" stroke="#222" stroke-width="2.2"/>
<line x1="156.0" y1="1044.2" x2="156.0" y2="1057.0" stroke="#222" stroke-width="2.2"/>
<line x1="152.2" y1="1044.2" x2="159.8" y2="1044.2" stroke="#222" stroke-width="2.2"/>
<line x1="152.2" y1="1057.0" x2="159.8" y2="1057.0" stroke="#222" stroke-width="2.2"/>
<line x1="151.0" y1="1050.6" x2="161.0" y2="1050.6" stroke="#222" stroke-width="2.2"/>
<line x1="171.7" y1="1047.5" x2="171.7" y2="1053.5" stroke="#222" stroke-width="2.2"/>
<line x1="167.9" y1="1047.5" x2="175.4" y2="1047.5" stroke="#222" stroke-width="2.2"/>
<line x1="167.9" y1="1053.5" x2="175.4" y2="1053.5" stroke="#222" stroke-width="2.2"/>
<line x1="166.7" y1="1050.6" x2="176.7" y2="1050.6" stroke="#222" stroke-width="2.2"/>
<line x1="197.7" y1="1039.4" x2="197.7" y2="1064.7" stroke="#222" stroke-width="2.2"/>
<line x1="193.9" y1="1039.4" x2="201.4" y2="1039.4" stroke="#222" stroke-width="2.2"/>
<line x1="193.9" y1="1064.7" x2="201.4" y2="1064.7" stroke="#222" stroke-width="2.2"/>
<line x1="192.7" y1="1051.2" x2="202.7" y2="1051.2" stroke="#222" stroke-width="2.2"/>
<line x1="213.7" y1="981.7" x2="213.7" y2="1013.7" stroke="#222" stroke-width="2.2"/>
<line x1="209.9" y1="981.7" x2="217.4" y2="981.7" stroke="#222" stroke-width="2.2"/>
<line x1="209.9" y1="1013.7" x2="217.4" y2="1013.7" stroke="#222" stroke-width="2.2"/>
<line x1="208.7" y1="998.1" x2="218.7" y2="998.1" stroke="#222" stroke-width="2.2"/>
<line x1="239.4" y1="1061.3" x2="239.4" y2="1073.1" stroke="#222" stroke-width="2.2"/>
<line x1="235.7" y1="1061.3" x2="243.2" y2="1061.3" stroke="#222" stroke-width="2.2"/>
<line x1="235.7" y1="1073.1" x2="243.2" y2="1073.1" stroke="#222" stroke-width="2.2"/>
<line x1="234.4" y1="1066.4" x2="244.4" y2="1066.4" stroke="#222" stroke-width="2.2"/>
<line x1="255.0" y1="1038.9" x2="255.0" y2="1052.0" stroke="#222" stroke-width="2.2"/>
<line x1="251.2" y1="1038.9" x2="258.8" y2="1038.9" stroke="#222" stroke-width="2.2"/>
<line x1="251.2" y1="1052.0" x2="258.8" y2="1052.0" stroke="#222" stroke-width="2.2"/>
<line x1="250.0" y1="1045.8" x2="260.0" y2="1045.8" stroke="#222" stroke-width="2.2"/>
<polyline points="199.7,956.2 199.7,868.2 214.6,868.2 214.6,879" fill="none" stroke="#222" stroke-width="2"/>
<text transform="translate(207.00 872.12)" font-size="17" text-anchor="middle" fill="#222" stroke="#222" stroke-width="0.6">*</text>
<polyline points="240.8,1010 240.8,951.3 257.6,951.3 257.6,975.6" fill="none" stroke="#222" stroke-width="2"/>
<text transform="translate(249.10 957.02)" font-size="17" text-anchor="middle" fill="#222" stroke="#222" stroke-width="0.6">*</text>
<text transform="translate(133.50 1112.00) rotate(-45) scale(1.1 1)" font-size="17" text-anchor="end" fill="#222" stroke="#222" stroke-width="0">Bone Marrow (Naive)</text>
<text transform="translate(175.50 1112.00) rotate(-45) scale(1.1 1)" font-size="17" text-anchor="end" fill="#222" stroke="#222" stroke-width="0">Bone Marrow (Onset)</text>
<text transform="translate(218.00 1112.00) rotate(-45) scale(1.1 1)" font-size="17" text-anchor="end" fill="#222" stroke="#222" stroke-width="0">Spinal Cord (Onset)</text>
<text transform="translate(257.50 1112.00) rotate(-45) scale(1.1 1)" font-size="17" text-anchor="end" fill="#222" stroke="#222" stroke-width="0">Brainstem (Onset)</text>
<text transform="translate(336.50 842.60) scale(1.04 1)" font-size="37" text-anchor="start" fill="#1d1d33" stroke="#fff" stroke-width="0.5">C</text>
<line x1="467.0" y1="833.8" x2="467.0" y2="1024.3" stroke="#222" stroke-width="2"/>
<line x1="458.5" y1="1023.3" x2="593.0" y2="1023.3" stroke="#222" stroke-width="2"/>
<text transform="translate(457.50 1029.70) scale(1.1 1)" font-size="17.5" text-anchor="end" fill="#222" stroke="#222" stroke-width="0">0.0</text>
<line x1="458.5" y1="960.4" x2="468.0" y2="960.4" stroke="#222" stroke-width="2"/>
<text transform="translate(457.50 966.85) scale(1.1 1)" font-size="17.5" text-anchor="end" fill="#222" stroke="#222" stroke-width="0">1.0</text>
<line x1="458.5" y1="897.6" x2="468.0" y2="897.6" stroke="#222" stroke-width="2"/>
<text transform="translate(457.50 904.00) scale(1.1 1)" font-size="17.5" text-anchor="end" fill="#222" stroke="#222" stroke-width="0">2.0</text>
<line x1="458.5" y1="834.8" x2="468.0" y2="834.8" stroke="#222" stroke-width="2"/>
<text transform="translate(457.50 841.15) scale(1.1 1)" font-size="17.5" text-anchor="end" fill="#222" stroke="#222" stroke-width="0">3.0</text>
<line x1="498.5" y1="954.2" x2="561.6" y2="867.4" stroke="#222" stroke-width="2.2"/>
<line x1="498.5" y1="954.8" x2="561.6" y2="878.1" stroke="#222" stroke-width="2.2"/>
<line x1="498.5" y1="966.7" x2="561.6" y2="905.8" stroke="#222" stroke-width="2.2"/>
<line x1="498.5" y1="969.9" x2="561.6" y2="913.9" stroke="#222" stroke-width="2.2"/>
<line x1="498.5" y1="973.0" x2="561.6" y2="922.7" stroke="#222" stroke-width="2.2"/>
<line x1="498.5" y1="976.2" x2="561.6" y2="963.6" stroke="#222" stroke-width="2.2"/>
<line x1="498.5" y1="979.3" x2="561.6" y2="978.0" stroke="#222" stroke-width="2.2"/>
<line x1="498.5" y1="984.3" x2="561.6" y2="947.9" stroke="#222" stroke-width="2.2"/>
<line x1="498.5" y1="988.7" x2="561.6" y2="949.8" stroke="#222" stroke-width="2.2"/>
<line x1="498.5" y1="993.1" x2="561.6" y2="959.8" stroke="#222" stroke-width="2.2"/>
<line x1="498.5" y1="998.2" x2="561.6" y2="966.1" stroke="#222" stroke-width="2.2"/>
<line x1="498.5" y1="1001.9" x2="561.6" y2="978.0" stroke="#222" stroke-width="2.2"/>
<line x1="498.5" y1="1012.6" x2="561.6" y2="1010.1" stroke="#222" stroke-width="2.2"/>
<circle cx="498.5" cy="954.2" r="4.1" fill="none" stroke="#3f59a8" stroke-width="3.4"/>
<circle cx="498.5" cy="954.8" r="4.1" fill="none" stroke="#3f59a8" stroke-width="3.4"/>
<circle cx="498.5" cy="966.7" r="4.1" fill="none" stroke="#3f59a8" stroke-width="3.4"/>
<circle cx="498.5" cy="969.9" r="4.1" fill="none" stroke="#3f59a8" stroke-width="3.4"/>
<circle cx="498.5" cy="973.0" r="4.1" fill="none" stroke="#3f59a8" stroke-width="3.4"/>
<circle cx="498.5" cy="976.2" r="4.1" fill="none" stroke="#3f59a8" stroke-width="3.4"/>
<circle cx="498.5" cy="979.3" r="4.1" fill="none" stroke="#3f59a8" stroke-width="3.4"/>
<circle cx="498.5" cy="984.3" r="4.1" fill="none" stroke="#3f59a8" stroke-width="3.4"/>
<circle cx="498.5" cy="988.7" r="4.1" fill="none" stroke="#3f59a8" stroke-width="3.4"/>
<circle cx="498.5" cy="993.1" r="4.1" fill="none" stroke="#3f59a8" stroke-width="3.4"/>
<circle cx="498.5" cy="998.2" r="4.1" fill="none" stroke="#3f59a8" stroke-width="3.4"/>
<circle cx="498.5" cy="1001.9" r="4.1" fill="none" stroke="#3f59a8" stroke-width="3.4"/>
<circle cx="498.5" cy="1012.6" r="4.1" fill="none" stroke="#3f59a8" stroke-width="3.4"/>
<circle cx="561.6" cy="867.4" r="4.1" fill="none" stroke="#e23b26" stroke-width="3.4"/>
<circle cx="561.6" cy="878.1" r="4.1" fill="none" stroke="#e23b26" stroke-width="3.4"/>
<circle cx="561.6" cy="905.8" r="4.1" fill="none" stroke="#e23b26" stroke-width="3.4"/>
<circle cx="561.6" cy="913.9" r="4.1" fill="none" stroke="#e23b26" stroke-width="3.4"/>
<circle cx="561.6" cy="922.7" r="4.1" fill="none" stroke="#e23b26" stroke-width="3.4"/>
<circle cx="561.6" cy="963.6" r="4.1" fill="none" stroke="#e23b26" stroke-width="3.4"/>
<circle cx="561.6" cy="978.0" r="4.1" fill="none" stroke="#e23b26" stroke-width="3.4"/>
<circle cx="561.6" cy="947.9" r="4.1" fill="none" stroke="#e23b26" stroke-width="3.4"/>
<circle cx="561.6" cy="949.8" r="4.1" fill="none" stroke="#e23b26" stroke-width="3.4"/>
<circle cx="561.6" cy="959.8" r="4.1" fill="none" stroke="#e23b26" stroke-width="3.4"/>
<circle cx="561.6" cy="966.1" r="4.1" fill="none" stroke="#e23b26" stroke-width="3.4"/>
<circle cx="561.6" cy="978.0" r="4.1" fill="none" stroke="#e23b26" stroke-width="3.4"/>
<circle cx="561.6" cy="1010.1" r="4.1" fill="none" stroke="#e23b26" stroke-width="3.4"/>
<text transform="translate(528.60 855.94)" font-size="21.5" text-anchor="middle" fill="#222" stroke="#222" stroke-width="0.6">***</text>
<text transform="translate(374.00 928.30) rotate(-90)" font-size="18.5" text-anchor="middle" fill="#222" stroke="#222" stroke-width="0">Brainstem</text>
<text transform="translate(397.00 928.50) rotate(-90) scale(1.05 1)" font-size="18.5" text-anchor="middle" fill="#222" stroke="#222" stroke-width="0">CXCR2</text>
<text transform="translate(419.50 928.50) rotate(-90)" font-size="18.5" text-anchor="middle" fill="#222" stroke="#222" stroke-width="0">Relative Expression</text>
<line x1="466.9" y1="1057.0" x2="466.9" y2="1247.4" stroke="#222" stroke-width="2"/>
<line x1="458.4" y1="1246.4" x2="593.0" y2="1246.4" stroke="#222" stroke-width="2"/>
<text transform="translate(457.40 1252.80) scale(1.1 1)" font-size="17.5" text-anchor="end" fill="#222" stroke="#222" stroke-width="0">0.0</text>
<line x1="458.4" y1="1199.3" x2="467.9" y2="1199.3" stroke="#222" stroke-width="2"/>
<text transform="translate(457.40 1205.70) scale(1.1 1)" font-size="17.5" text-anchor="end" fill="#222" stroke="#222" stroke-width="0">0.5</text>
<line x1="458.4" y1="1152.2" x2="467.9" y2="1152.2" stroke="#222" stroke-width="2"/>
<text transform="translate(457.40 1158.60) scale(1.1 1)" font-size="17.5" text-anchor="end" fill="#222" stroke="#222" stroke-width="0">1.0</text>
<line x1="458.4" y1="1105.1" x2="467.9" y2="1105.1" stroke="#222" stroke-width="2"/>
<text transform="translate(457.40 1111.50) scale(1.1 1)" font-size="17.5" text-anchor="end" fill="#222" stroke="#222" stroke-width="0">1.5</text>
<line x1="458.4" y1="1058.0" x2="467.9" y2="1058.0" stroke="#222" stroke-width="2"/>
<text transform="translate(457.40 1064.40) scale(1.1 1)" font-size="17.5" text-anchor="end" fill="#222" stroke="#222" stroke-width="0">2.0</text>
<line x1="498.5" y1="1165.4" x2="561.6" y2="1149.4" stroke="#222" stroke-width="2.2"/>
<line x1="498.5" y1="1186.1" x2="561.6" y2="1177.6" stroke="#222" stroke-width="2.2"/>
<line x1="498.5" y1="1188.0" x2="561.6" y2="1156.9" stroke="#222" stroke-width="2.2"/>
<line x1="498.5" y1="1206.8" x2="561.6" y2="1074.0" stroke="#222" stroke-width="2.2"/>
<line x1="498.5" y1="1210.6" x2="561.6" y2="1128.7" stroke="#222" stroke-width="2.2"/>
<line x1="498.5" y1="1214.4" x2="561.6" y2="1153.1" stroke="#222" stroke-width="2.2"/>
<line x1="498.5" y1="1218.1" x2="561.6" y2="1160.7" stroke="#222" stroke-width="2.2"/>
<line x1="498.5" y1="1221.9" x2="561.6" y2="1176.7" stroke="#222" stroke-width="2.2"/>
<line x1="498.5" y1="1225.7" x2="561.6" y2="1155.0" stroke="#222" stroke-width="2.2"/>
<line x1="498.5" y1="1237.0" x2="561.6" y2="1204.0" stroke="#222" stroke-width="2.2"/>
<circle cx="498.5" cy="1165.4" r="4.1" fill="none" stroke="#3f59a8" stroke-width="3.4"/>
<circle cx="498.5" cy="1186.1" r="4.1" fill="none" stroke="#3f59a8" stroke-width="3.4"/>
<circle cx="498.5" cy="1188.0" r="4.1" fill="none" stroke="#3f59a8" stroke-width="3.4"/>
<circle cx="498.5" cy="1206.8" r="4.1" fill="none" stroke="#3f59a8" stroke-width="3.4"/>
<circle cx="498.5" cy="1210.6" r="4.1" fill="none" stroke="#3f59a8" stroke-width="3.4"/>
<circle cx="498.5" cy="1214.4" r="4.1" fill="none" stroke="#3f59a8" stroke-width="3.4"/>
<circle cx="498.5" cy="1218.1" r="4.1" fill="none" stroke="#3f59a8" stroke-width="3.4"/>
<circle cx="498.5" cy="1221.9" r="4.1" fill="none" stroke="#3f59a8" stroke-width="3.4"/>
<circle cx="498.5" cy="1225.7" r="4.1" fill="none" stroke="#3f59a8" stroke-width="3.4"/>
<circle cx="498.5" cy="1237.0" r="4.1" fill="none" stroke="#3f59a8" stroke-width="3.4"/>
<circle cx="561.6" cy="1149.4" r="4.1" fill="none" stroke="#e23b26" stroke-width="3.4"/>
<circle cx="561.6" cy="1177.6" r="4.1" fill="none" stroke="#e23b26" stroke-width="3.4"/>
<circle cx="561.6" cy="1156.9" r="4.1" fill="none" stroke="#e23b26" stroke-width="3.4"/>
<circle cx="561.6" cy="1074.0" r="4.1" fill="none" stroke="#e23b26" stroke-width="3.4"/>
<circle cx="561.6" cy="1128.7" r="4.1" fill="none" stroke="#e23b26" stroke-width="3.4"/>
<circle cx="561.6" cy="1153.1" r="4.1" fill="none" stroke="#e23b26" stroke-width="3.4"/>
<circle cx="561.6" cy="1160.7" r="4.1" fill="none" stroke="#e23b26" stroke-width="3.4"/>
<circle cx="561.6" cy="1176.7" r="4.1" fill="none" stroke="#e23b26" stroke-width="3.4"/>
<circle cx="561.6" cy="1155.0" r="4.1" fill="none" stroke="#e23b26" stroke-width="3.4"/>
<circle cx="561.6" cy="1204.0" r="4.1" fill="none" stroke="#e23b26" stroke-width="3.4"/>
<text transform="translate(527.40 1076.36)" font-size="21" text-anchor="middle" fill="#222" stroke="#222" stroke-width="0.6">***</text>
<text transform="translate(374.00 1152.00) rotate(-90)" font-size="18.5" text-anchor="middle" fill="#222" stroke="#222" stroke-width="0">Spinal Cord</text>
<text transform="translate(397.00 1152.00) rotate(-90) scale(1.05 1)" font-size="18.5" text-anchor="middle" fill="#222" stroke="#222" stroke-width="0">CXCR2</text>
<text transform="translate(419.50 1152.00) rotate(-90)" font-size="18.5" text-anchor="middle" fill="#222" stroke="#222" stroke-width="0">Relative Expression</text>
<line x1="466.8" y1="1282.7" x2="466.8" y2="1474.6" stroke="#222" stroke-width="2"/>
<line x1="458.3" y1="1473.6" x2="593.0" y2="1473.6" stroke="#222" stroke-width="2"/>
<text transform="translate(457.30 1480.00) scale(1.1 1)" font-size="17.5" text-anchor="end" fill="#222" stroke="#222" stroke-width="0">0.0</text>
<line x1="458.3" y1="1410.3" x2="467.8" y2="1410.3" stroke="#222" stroke-width="2"/>
<text transform="translate(457.30 1416.70) scale(1.1 1)" font-size="17.5" text-anchor="end" fill="#222" stroke="#222" stroke-width="0">0.5</text>
<line x1="458.3" y1="1347.0" x2="467.8" y2="1347.0" stroke="#222" stroke-width="2"/>
<text transform="translate(457.30 1353.40) scale(1.1 1)" font-size="17.5" text-anchor="end" fill="#222" stroke="#222" stroke-width="0">1.0</text>
<line x1="458.3" y1="1283.7" x2="467.8" y2="1283.7" stroke="#222" stroke-width="2"/>
<text transform="translate(457.30 1290.10) scale(1.1 1)" font-size="17.5" text-anchor="end" fill="#222" stroke="#222" stroke-width="0">1.5</text>
<line x1="498.3" y1="1473.6" x2="498.3" y2="1481.6" stroke="#222" stroke-width="2"/>
<line x1="561.4" y1="1473.6" x2="561.4" y2="1481.6" stroke="#222" stroke-width="2"/>
<line x1="498.3" y1="1329.3" x2="561.4" y2="1401.4" stroke="#222" stroke-width="2.2"/>
<line x1="498.3" y1="1397.6" x2="561.4" y2="1407.8" stroke="#222" stroke-width="2.2"/>
<line x1="498.3" y1="1400.2" x2="561.4" y2="1404.0" stroke="#222" stroke-width="2.2"/>
<line x1="498.3" y1="1401.4" x2="561.4" y2="1410.3" stroke="#222" stroke-width="2.2"/>
<line x1="498.3" y1="1405.2" x2="561.4" y2="1404.0" stroke="#222" stroke-width="2.2"/>
<line x1="498.3" y1="1407.8" x2="561.4" y2="1406.5" stroke="#222" stroke-width="2.2"/>
<line x1="498.3" y1="1410.3" x2="561.4" y2="1415.4" stroke="#222" stroke-width="2.2"/>
<line x1="498.3" y1="1416.6" x2="561.4" y2="1439.4" stroke="#222" stroke-width="2.2"/>
<line x1="498.3" y1="1419.2" x2="561.4" y2="1421.7" stroke="#222" stroke-width="2.2"/>
<line x1="498.3" y1="1421.7" x2="561.4" y2="1410.3" stroke="#222" stroke-width="2.2"/>
<line x1="498.3" y1="1426.8" x2="561.4" y2="1424.2" stroke="#222" stroke-width="2.2"/>
<line x1="498.3" y1="1429.3" x2="561.4" y2="1423.0" stroke="#222" stroke-width="2.2"/>
<line x1="498.3" y1="1431.8" x2="561.4" y2="1407.8" stroke="#222" stroke-width="2.2"/>
<line x1="498.3" y1="1439.4" x2="561.4" y2="1440.7" stroke="#222" stroke-width="2.2"/>
<circle cx="498.3" cy="1329.3" r="4.1" fill="none" stroke="#3f59a8" stroke-width="3.4"/>
<circle cx="498.3" cy="1397.6" r="4.1" fill="none" stroke="#3f59a8" stroke-width="3.4"/>
<circle cx="498.3" cy="1400.2" r="4.1" fill="none" stroke="#3f59a8" stroke-width="3.4"/>
<circle cx="498.3" cy="1401.4" r="4.1" fill="none" stroke="#3f59a8" stroke-width="3.4"/>
<circle cx="498.3" cy="1405.2" r="4.1" fill="none" stroke="#3f59a8" stroke-width="3.4"/>
<circle cx="498.3" cy="1407.8" r="4.1" fill="none" stroke="#3f59a8" stroke-width="3.4"/>
<circle cx="498.3" cy="1410.3" r="4.1" fill="none" stroke="#3f59a8" stroke-width="3.4"/>
<circle cx="498.3" cy="1416.6" r="4.1" fill="none" stroke="#3f59a8" stroke-width="3.4"/>
<circle cx="498.3" cy="1419.2" r="4.1" fill="none" stroke="#3f59a8" stroke-width="3.4"/>
<circle cx="498.3" cy="1421.7" r="4.1" fill="none" stroke="#3f59a8" stroke-width="3.4"/>
<circle cx="498.3" cy="1426.8" r="4.1" fill="none" stroke="#3f59a8" stroke-width="3.4"/>
<circle cx="498.3" cy="1429.3" r="4.1" fill="none" stroke="#3f59a8" stroke-width="3.4"/>
<circle cx="498.3" cy="1431.8" r="4.1" fill="none" stroke="#3f59a8" stroke-width="3.4"/>
<circle cx="498.3" cy="1439.4" r="4.1" fill="none" stroke="#3f59a8" stroke-width="3.4"/>
<circle cx="561.4" cy="1401.4" r="4.1" fill="none" stroke="#e23b26" stroke-width="3.4"/>
<circle cx="561.4" cy="1407.8" r="4.1" fill="none" stroke="#e23b26" stroke-width="3.4"/>
<circle cx="561.4" cy="1404.0" r="4.1" fill="none" stroke="#e23b26" stroke-width="3.4"/>
<circle cx="561.4" cy="1410.3" r="4.1" fill="none" stroke="#e23b26" stroke-width="3.4"/>
<circle cx="561.4" cy="1404.0" r="4.1" fill="none" stroke="#e23b26" stroke-width="3.4"/>
<circle cx="561.4" cy="1406.5" r="4.1" fill="none" stroke="#e23b26" stroke-width="3.4"/>
<circle cx="561.4" cy="1415.4" r="4.1" fill="none" stroke="#e23b26" stroke-width="3.4"/>
<circle cx="561.4" cy="1439.4" r="4.1" fill="none" stroke="#e23b26" stroke-width="3.4"/>
<circle cx="561.4" cy="1421.7" r="4.1" fill="none" stroke="#e23b26" stroke-width="3.4"/>
<circle cx="561.4" cy="1410.3" r="4.1" fill="none" stroke="#e23b26" stroke-width="3.4"/>
<circle cx="561.4" cy="1424.2" r="4.1" fill="none" stroke="#e23b26" stroke-width="3.4"/>
<circle cx="561.4" cy="1423.0" r="4.1" fill="none" stroke="#e23b26" stroke-width="3.4"/>
<circle cx="561.4" cy="1407.8" r="4.1" fill="none" stroke="#e23b26" stroke-width="3.4"/>
<circle cx="561.4" cy="1440.7" r="4.1" fill="none" stroke="#e23b26" stroke-width="3.4"/>
<text transform="translate(374.00 1379.00) rotate(-90)" font-size="18.5" text-anchor="middle" fill="#222" stroke="#222" stroke-width="0">Bone Marrow</text>
<text transform="translate(397.00 1379.00) rotate(-90) scale(1.05 1)" font-size="18.5" text-anchor="middle" fill="#222" stroke="#222" stroke-width="0">CXCR2</text>
<text transform="translate(419.50 1379.00) rotate(-90)" font-size="18.5" text-anchor="middle" fill="#222" stroke="#222" stroke-width="0">Relative Expression</text>
<text transform="translate(502.00 1495.00) rotate(-45)" font-size="19.5" text-anchor="end" fill="#3f59a8" stroke="#3f59a8" stroke-width="0">WT</text>
<text transform="translate(567.00 1497.00) rotate(-45)" font-size="19.5" text-anchor="end" fill="#e23b26" stroke="#e23b26" stroke-width="0">IFN<tspan font-size="14">&#947;</tspan>RKO</text>
</svg></body></html>
